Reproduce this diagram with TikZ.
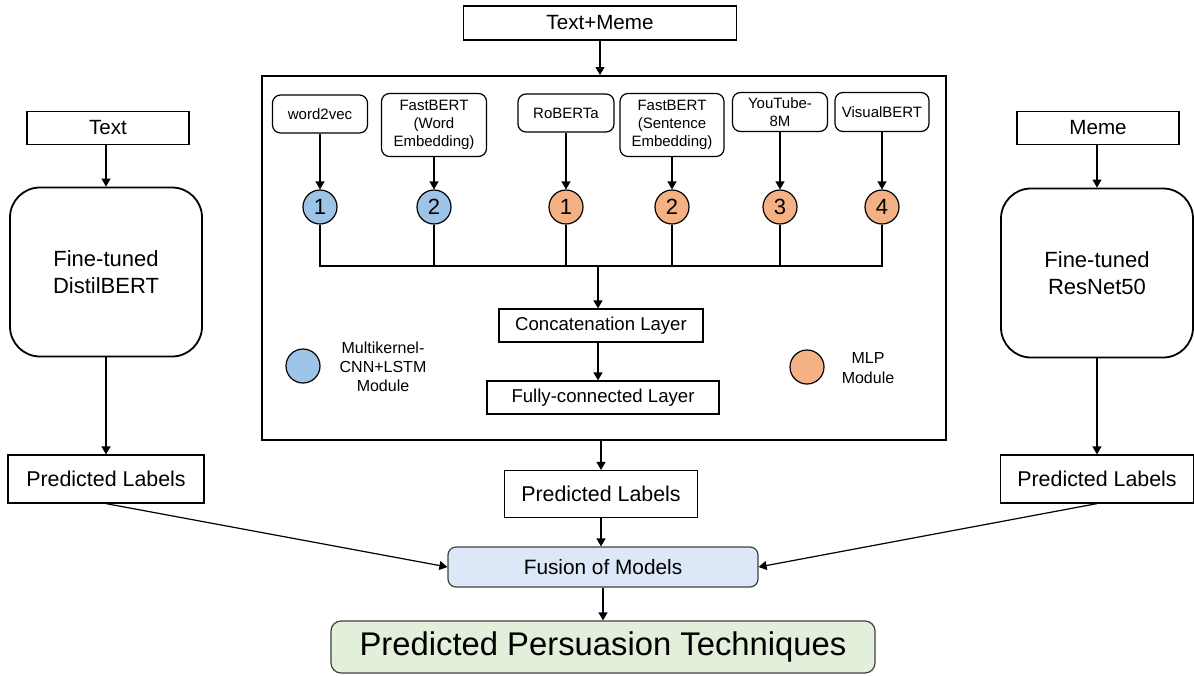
\documentclass[tikz,border=0pt]{standalone}
\usepackage{fontspec}
\setmainfont{Liberation Sans}
\usetikzlibrary{arrows.meta}
\definecolor{cnnblue}{HTML}{9DC3E6}
\definecolor{mlporange}{HTML}{F4B183}
\definecolor{fusionblue}{HTML}{DCE8F7}
\definecolor{outgreen}{HTML}{E2EFDA}

\begin{document}
\begin{tikzpicture}[x=0.5pt, y=-0.5pt,
		arr/.style = {-{Triangle[length=4pt, width=4.5pt]}, line width=0.6pt},
		plainbox/.style = {draw, line width=0.6pt, align=center, inner sep=0pt},
		embbox/.style = {plainbox, rounded corners=4pt, font=\fontsize{7.5}{9}\selectfont},
		modelbox/.style = {draw, line width=0.9pt, rounded corners=15pt, align=center, minimum width=96pt, minimum height=84.5pt, font=\fontsize{11}{13.5}\selectfont},
		numcirc/.style = {circle, draw, line width=0.6pt, minimum size=17pt, inner sep=0pt, font=\fontsize{11}{13}\selectfont},
		legend/.style = {align=center, font=\fontsize{8}{9.6}\selectfont}]
		\useasboundingbox (0,0) rectangle (1194,675);
		
		\node [plainbox, minimum width=136.5pt, minimum height=17pt, font=\fontsize{10.3}{12}\selectfont] (txtmeme) at (600,23) {Text+Meme};
		\node [draw, line width=1pt, minimum width=342pt, minimum height=182pt] (ensemble) at (604,258) {};
		
		\node [plainbox, minimum width=81pt, minimum height=16.5pt, font=\fontsize{10.3}{12}\selectfont] (text) at (108,128) {Text};
		\node [modelbox] (distil) at (106,272) {Fine-tuned\\DistilBERT};
		\node [plainbox, minimum width=98pt, minimum height=24pt, font=\fontsize{10.7}{12}\selectfont] (predl) at (106,479) {Predicted Labels};
		
		\node [plainbox, minimum width=81pt, minimum height=16.5pt, font=\fontsize{10.3}{12}\selectfont] (meme) at (1098,128) {Meme};
		\node [modelbox] (resnet) at (1097,273) {Fine-tuned\\ResNet50};
		\node [plainbox, minimum width=96.5pt, minimum height=24pt, font=\fontsize{10.7}{12}\selectfont] (predr) at (1097,479) {Predicted Labels};
		
		\node [embbox, minimum width=47.5pt, minimum height=19pt] (w2v) at (320,114) {word2vec};
		\node [embbox, minimum width=52.5pt, minimum height=31.5pt] (fbword) at (434,125) {FastBERT\\(Word\\Embedding)};
		\node [embbox, minimum width=48pt, minimum height=19pt] (roberta) at (566,113) {RoBERTa};
		\node [embbox, minimum width=52pt, minimum height=31.5pt] (fbsent) at (672,125) {FastBERT\\(Sentence\\Embedding)};
		\node [embbox, minimum width=47.5pt, minimum height=19.5pt] (youtube) at (780,112) {YouTube-\\8M};
		\node [embbox, minimum width=47pt, minimum height=19.5pt] (visbert) at (882,112) {VisualBERT};
		
		\node [numcirc, fill=cnnblue] (c1) at (320,207) {1};
		\node [numcirc, fill=cnnblue] (c2) at (434,207) {2};
		\node [numcirc, fill=mlporange] (c3) at (566,207) {1};
		\node [numcirc, fill=mlporange] (c4) at (672,207) {2};
		\node [numcirc, fill=mlporange] (c5) at (780,207) {3};
		\node [numcirc, fill=mlporange] (c6) at (882,207) {4};
		\coordinate (bus) at (598,266);
		
		\node [plainbox, minimum width=102pt, minimum height=16.5pt, font=\fontsize{9.3}{11}\selectfont] (concat) at (601,325.5) {Concatenation Layer};
		\node [plainbox, minimum width=116pt, minimum height=16.5pt, font=\fontsize{9.3}{11}\selectfont] (fc) at (603,397.5) {Fully-connected Layer};
		
		\node [numcirc, fill=cnnblue] (legcnn) at (303,366) {};
		\node [legend] at (383,367) {Multikernel-\\CNN+LSTM\\Module};
		\node [numcirc, fill=mlporange] (legmlp) at (807,367) {};
		\node [legend] at (868,368) {MLP\\Module};
		
		\node [plainbox, minimum width=96.5pt, minimum height=23.5pt, font=\fontsize{10.7}{12}\selectfont] (predm) at (601,494) {Predicted Labels};
		\node [plainbox, draw=black!75, fill=fusionblue, rounded corners=4pt, minimum width=155pt, minimum height=20pt, font=\fontsize{10.4}{12}\selectfont] (fusion) at (603,567) {Fusion of Models};
		\node [plainbox, draw=black!75, fill=outgreen, rounded corners=5pt, minimum width=272pt, minimum height=26pt, font=\fontsize{16.4}{19}\selectfont] (final) at (603,647) {Predicted Persuasion Techniques};
		
		\draw [arr] (txtmeme.south) -- (txtmeme.south |- ensemble.north);
		\draw [arr] (distil.north |- text.south) -- (distil.north);
		\draw [arr] (distil) -- (predl);
		\draw [arr] (resnet.north |- meme.south) -- (resnet.north);
		\draw [arr] (resnet) -- (predr);
		
		\draw [arr] (w2v) -- (c1);
		\draw [arr] (fbword) -- (c2);
		\draw [arr] (roberta) -- (c3);
		\draw [arr] (fbsent) -- (c4);
		\draw [arr] (youtube) -- (c5);
		\draw [arr] (visbert) -- (c6);
		
		\draw [line width=0.6pt] (c1.south) |- (bus) -| (c6.south);
		\draw [line width=0.6pt] (c2.south) -- (c2.south |- bus);
		\draw [line width=0.6pt] (c3.south) -- (c3.south |- bus);
		\draw [line width=0.6pt] (c4.south) -- (c4.south |- bus);
		\draw [line width=0.6pt] (c5.south) -- (c5.south |- bus);
		\draw [arr] (bus) -- (bus |- concat.north);
		\draw [arr] (bus |- concat.south) -- (bus |- fc.north);
		
		\draw [arr] (ensemble.south -| predm.north) -- (predm.north);
		\draw [arr] (predm.south) -- (predm.south |- fusion.north);
		\draw [arr] (fusion) -- (final);
		\draw [arr] (predl.south) -- (fusion.west);
		\draw [arr] (predr.south) -- (fusion.east);
		
		\end{tikzpicture}
\end{document}
